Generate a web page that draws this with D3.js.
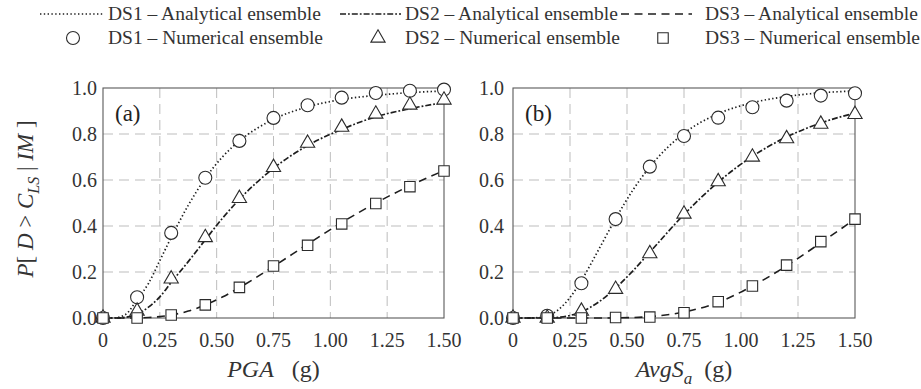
<!DOCTYPE html>
<html>
<head>
<meta charset="utf-8">
<script src="https://cdn.jsdelivr.net/npm/d3@7"></script>
<style>
  html, body { margin: 0; padding: 0; background: #fff; }
  svg { display: block; font-family: "Liberation Serif", "Times New Roman", serif; }
</style>
</head>
<body>
<svg id="chart" width="921" height="389"></svg>
<script>
// ---------- data ----------
const xTickValues = [0, 0.25, 0.5, 0.75, 1.0, 1.25, 1.5];
const xTickLabels = ["0", "0.25", "0.50", "0.75", "1.00", "1.25", "1.50"];
const yTickValues = [0, 0.2, 0.4, 0.6, 0.8, 1.0];
const yTickLabels = ["0.0", "0.2", "0.4", "0.6", "0.8", "1.0"];

// numerical ensemble IM levels
const imLevels = [0, 0.15, 0.30, 0.45, 0.60, 0.75, 0.90, 1.05, 1.20, 1.35, 1.50];
// analytical curve IM points
const curveIM = [0, 0.05, 0.10, 0.15, 0.20, 0.25, 0.30, 0.375, 0.45, 0.525, 0.60, 0.75, 0.90, 1.05, 1.20, 1.35, 1.50];

// panel (a): PGA
const pgaDS1Num = [0, 0.09, 0.37, 0.61, 0.77, 0.87, 0.925, 0.958, 0.978, 0.988, 0.993];
const pgaDS2Num = [0, 0.03, 0.17, 0.35, 0.52, 0.655, 0.76, 0.83, 0.887, 0.926, 0.948];
const pgaDS3Num = [0, 0, 0.013, 0.057, 0.133, 0.226, 0.316, 0.409, 0.498, 0.571, 0.639];
const pgaDS1Ana = [0, 0.0005, 0.016, 0.08, 0.15, 0.25, 0.35, 0.49, 0.607, 0.70, 0.77, 0.864, 0.918, 0.95, 0.968, 0.98, 0.987];
const pgaDS2Ana = [0, 0, 0.003, 0.017, 0.047, 0.092, 0.155, 0.245, 0.34, 0.433, 0.516, 0.651, 0.75, 0.82, 0.875, 0.91, 0.937];
const pgaDS3Ana = [0, 0, 0, 0.0004, 0.002, 0.006, 0.013, 0.030, 0.057, 0.091, 0.132, 0.224, 0.321, 0.415, 0.5, 0.575, 0.641];

// panel (b): AvgSa
const avgDS1Num = [0, 0.01, 0.151, 0.43, 0.658, 0.791, 0.871, 0.916, 0.945, 0.967, 0.977];
const avgDS2Num = [0, 0, 0.03, 0.125, 0.28, 0.452, 0.593, 0.70, 0.78, 0.843, 0.885];
const avgDS3Num = [0, 0, 0, 0.002, 0.004, 0.023, 0.071, 0.139, 0.23, 0.332, 0.43];
const avgDS1Ana = [0, 0, 0.001, 0.009, 0.037, 0.089, 0.163, 0.296, 0.432, 0.555, 0.657, 0.803, 0.888, 0.936, 0.963, 0.979, 0.987];
const avgDS2Ana = [0, 0, 0, 0.0005, 0.003, 0.011, 0.027, 0.069, 0.13, 0.204, 0.286, 0.45, 0.591, 0.703, 0.787, 0.848, 0.891];
const avgDS3Ana = [0, 0, 0, 0, 0, 0, 0, 0, 0.0006, 0.002, 0.006, 0.026, 0.068, 0.139, 0.227, 0.327, 0.43];

const legendLabels = [
  "DS1 \u2013 Analytical ensemble", "DS2 \u2013 Analytical ensemble", "DS3 \u2013 Analytical ensemble",
  "DS1 \u2013 Numerical ensemble", "DS2 \u2013 Numerical ensemble", "DS3 \u2013 Numerical ensemble"
];

// ---------- styles ----------
const ink = "#2b2b2b";
const lineStyles = {
  DS1: { dash: "1.4,2.4", width: 1.7 },
  DS2: { dash: "6,2,1.8,2", width: 1.7 },
  DS3: { dash: "8,5.5", width: 1.6 }
};

const svg = d3.select("#chart");

const panels = [
  { left: 103, right: 444, label: "(a)", title: "PGA", sub: null, labelGap: 6,
    ana: [pgaDS1Ana, pgaDS2Ana, pgaDS3Ana], num: [pgaDS1Num, pgaDS2Num, pgaDS3Num] },
  { left: 513, right: 855, label: "(b)", title: "AvgS", sub: "a", labelGap: 9,
    ana: [avgDS1Ana, avgDS2Ana, avgDS3Ana], num: [avgDS1Num, avgDS2Num, avgDS3Num] }
];
const plotTop = 88, plotBottom = 318;

function drawMarker(sel, kind, x, y) {
  if (kind === 0) {
    sel.append("circle").attr("cx", x).attr("cy", y).attr("r", 6.5)
      .attr("fill", "#fff").attr("stroke", ink).attr("stroke-width", 1.1);
  } else if (kind === 1) {
    sel.append("path").attr("transform", `translate(${x},${y})`)
      .attr("d", d3.symbol().type(d3.symbolTriangle).size(88)())
      .attr("fill", "#fff").attr("stroke", ink).attr("stroke-width", 1.1);
  } else {
    sel.append("path").attr("transform", `translate(${x},${y})`)
      .attr("d", d3.symbol().type(d3.symbolSquare).size(110)())
      .attr("fill", "#fff").attr("stroke", ink).attr("stroke-width", 1.1);
  }
}

const dsKeys = ["DS1", "DS2", "DS3"];

panels.forEach(p => {
  const x = d3.scaleLinear().domain([0, 1.5]).range([p.left, p.right]);
  const y = d3.scaleLinear().domain([0, 1]).range([plotBottom, plotTop]);
  const g = svg.append("g");

  // grid
  g.selectAll("line.vg").data(xTickValues.slice(1, -1)).join("line")
    .attr("x1", d => x(d)).attr("x2", d => x(d)).attr("y1", plotTop).attr("y2", plotBottom)
    .attr("stroke", "#bdbdbd").attr("stroke-width", 1).attr("stroke-dasharray", "10,6");
  g.selectAll("line.hg").data(yTickValues.slice(1, -1)).join("line")
    .attr("y1", d => y(d)).attr("y2", d => y(d)).attr("x1", p.left).attr("x2", p.right)
    .attr("stroke", "#bdbdbd").attr("stroke-width", 1).attr("stroke-dasharray", "10,6");

  // frame
  g.append("rect").attr("x", p.left).attr("y", plotTop)
    .attr("width", p.right - p.left).attr("height", plotBottom - plotTop)
    .attr("fill", "none").attr("stroke", "#5a5a5a").attr("stroke-width", 1.1);

  // tick labels
  g.selectAll("text.xt").data(xTickValues).join("text")
    .attr("x", d => x(d)).attr("y", 347).attr("text-anchor", "middle")
    .attr("font-size", 20).attr("fill", "#333")
    .text((d, i) => xTickLabels[i]);
  g.selectAll("text.yt").data(yTickValues).join("text")
    .attr("x", p.left - p.labelGap).attr("y", d => y(d) + 7).attr("text-anchor", "end")
    .attr("font-size", 20).attr("fill", "#333")
    .text((d, i) => yTickLabels[i]);

  // analytical lines
  const line = d3.line().x(d => x(d[0])).y(d => y(d[1])).curve(d3.curveMonotoneX);
  p.ana.forEach((arr, k) => {
    const st = lineStyles[dsKeys[k]];
    g.append("path").datum(curveIM.map((v, i) => [v, arr[i]]))
      .attr("d", line).attr("fill", "none").attr("stroke", "#1e1e1e")
      .attr("stroke-width", st.width).attr("stroke-dasharray", st.dash);
  });

  // numerical markers
  p.num.forEach((arr, k) => {
    imLevels.forEach((v, i) => drawMarker(g, k, x(v), y(arr[i])));
  });

  // panel label
  g.append("text").attr("x", p.left + 12).attr("y", 121)
    .attr("font-size", 23).attr("fill", "#222").text(p.label);

  // axis title
  const cx = (p.left + p.right) / 2;
  const t = g.append("text").attr("x", cx).attr("y", 377).attr("text-anchor", "middle")
    .attr("font-size", 24).attr("fill", "#333");
  t.append("tspan").attr("font-style", "italic").text(p.title);
  if (p.sub) {
    t.append("tspan").attr("font-style", "italic").attr("font-size", 17).attr("dy", 7).text(p.sub);
    t.append("tspan").attr("dy", -7).attr("dx", 12).text("(g)");
  } else {
    t.append("tspan").attr("dx", 18).text("(g)");
  }
});

// y-axis title (rotated)
const yt = svg.append("text").attr("transform", "translate(33,199) rotate(-90)")
  .attr("text-anchor", "middle").attr("font-size", 23).attr("fill", "#333");
yt.append("tspan").attr("font-style", "italic").text("P");
yt.append("tspan").text("[ ");
yt.append("tspan").attr("font-style", "italic").text("D");
yt.append("tspan").text(" > ");
yt.append("tspan").attr("font-style", "italic").text("C");
yt.append("tspan").attr("font-style", "italic").attr("font-size", 16).attr("dy", 6).text("LS");
yt.append("tspan").attr("dy", -6).text(" | ");
yt.append("tspan").attr("font-style", "italic").text("IM");
yt.append("tspan").text(" ]");

// legend
const legendCols = [
  { lineX1: 40, lineX2: 103, markX: 73, textX: 108 },
  { lineX1: 340, lineX2: 401, markX: 378, textX: 405 },
  { lineX1: 621, lineX2: 692, markX: 663, textX: 705 }
];
const row1Base = 20, row2Base = 44;
legendCols.forEach((c, k) => {
  const st = lineStyles[dsKeys[k]];
  svg.append("line").attr("x1", c.lineX1).attr("x2", c.lineX2)
    .attr("y1", row1Base - 6).attr("y2", row1Base - 6)
    .attr("stroke", "#1e1e1e").attr("stroke-width", st.width).attr("stroke-dasharray", st.dash);
  svg.append("text").attr("x", c.textX).attr("y", row1Base).attr("font-size", 19.5)
    .attr("fill", "#333").text(legendLabels[k]);
  drawMarker(svg, k, c.markX, row2Base - 6);
  svg.append("text").attr("x", c.textX).attr("y", row2Base).attr("font-size", 19.5)
    .attr("fill", "#333").text(legendLabels[k + 3]);
});
</script>
</body>
</html>
